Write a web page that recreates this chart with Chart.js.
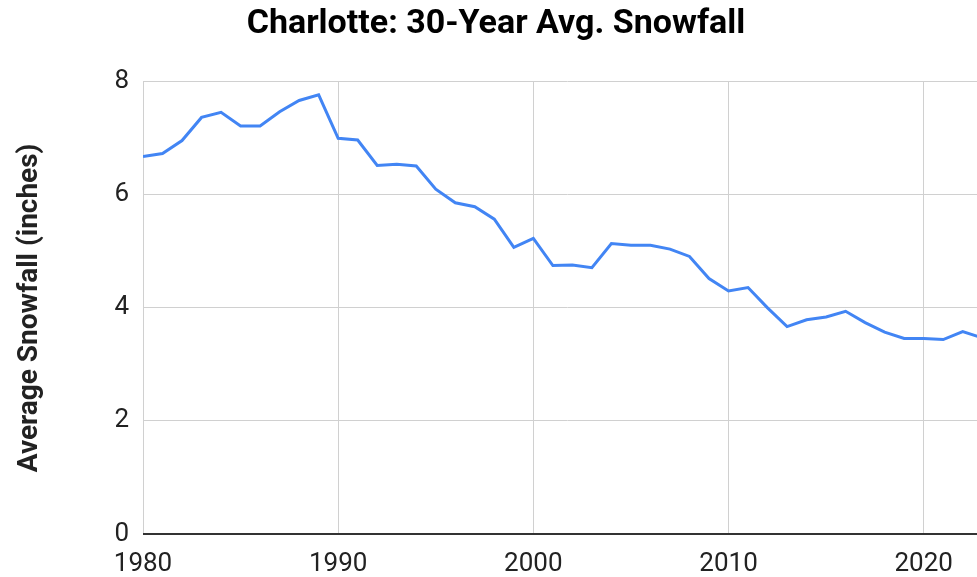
<!DOCTYPE html>
<html lang="en">
<head>
<meta charset="utf-8">
<script src="https://cdn.jsdelivr.net/npm/chart.js"></script>
<style>
    html, body { margin: 0; padding: 0; background: #fff; overflow: hidden; }
    #wrap { width: 992px; height: 577px; }
</style>
</head>
<body>
<div id="wrap">
    <canvas id="myChart" width="992" height="577"></canvas>
</div>
<script>
    // years on the x axis
    let years = [1980, 1981, 1982, 1983, 1984, 1985, 1986, 1987, 1988, 1989,
                 1990, 1991, 1992, 1993, 1994, 1995, 1996, 1997, 1998, 1999,
                 2000, 2001, 2002, 2003, 2004, 2005, 2006, 2007, 2008, 2009,
                 2010, 2011, 2012, 2013, 2014, 2015, 2016, 2017, 2018, 2019,
                 2020, 2021, 2022, 2023];
    // 30-year average snowfall (inches)
    let snowfall = [6.68, 6.73, 6.96, 7.37, 7.46, 7.22, 7.22, 7.47, 7.67, 7.77,
                    7.00, 6.97, 6.52, 6.54, 6.51, 6.10, 5.86, 5.79, 5.57, 5.07,
                    5.23, 4.75, 4.76, 4.71, 5.14, 5.11, 5.11, 5.04, 4.91, 4.52,
                    4.30, 4.36, 4.00, 3.67, 3.79, 3.84, 3.94, 3.74, 3.57, 3.46,
                    3.46, 3.44, 3.58, 3.47];
    let xTicks = [1980, 1990, 2000, 2010, 2020];
    let yTicks = [0, 2, 4, 6, 8];

    let points = years.map(function (y, i) {
        return {x: y, y: snowfall[i]};
    });

    Chart.defaults.font.family = 'Roboto';
    Chart.defaults.color = '#222';

    new Chart(document.getElementById('myChart'), {
        type: 'line',
        data: {
            datasets: [{
                label: 'Average Snowfall',
                data: points,
                borderColor: '#4285f4',
                borderWidth: 3,
                pointRadius: 0,
                tension: 0,
                fill: false
            }]
        },
        options: {
            responsive: false,
            animation: false,
            plugins: {
                legend: {display: false},
                tooltip: {enabled: false},
                title: {
                    display: true,
                    text: 'Charlotte: 30-Year Avg. Snowfall',
                    color: '#000',
                    font: {size: 34, weight: 'bold'},
                    padding: {top: 4, bottom: 37}
                }
            },
            scales: {
                x: {
                    type: 'linear',
                    min: 1980,
                    max: 2023.5,
                    afterBuildTicks: function (scale) {
                        scale.ticks = xTicks.map(function (v) { return {value: v}; });
                    },
                    afterFit: function (scale) {
                        scale.height = 43;
                    },
                    ticks: {
                        font: {size: 26},
                        padding: 15,
                        maxRotation: 0,
                        callback: function (v) { return String(v); }
                    },
                    grid: {color: '#d0d0d0', drawTicks: false},
                    border: {display: false}
                },
                y: {
                    min: 0,
                    max: 8,
                    afterBuildTicks: function (scale) {
                        scale.ticks = yTicks.map(function (v) { return {value: v}; });
                    },
                    afterFit: function (scale) {
                        scale.width = 143;
                    },
                    ticks: {font: {size: 26}, padding: 14},
                    grid: {
                        drawTicks: false,
                        color: function (ctx) {
                            return ctx.tick && ctx.tick.value === 0 ? '#333' : '#d0d0d0';
                        },
                        lineWidth: function (ctx) {
                            return ctx.tick && ctx.tick.value === 0 ? 2 : 1;
                        }
                    },
                    border: {display: false},
                    title: {
                        display: true,
                        text: 'Average Snowfall (inches)',
                        color: '#222',
                        font: {size: 28, weight: 'bold'},
                        padding: {top: 13, bottom: 0}
                    }
                }
            }
        }
    });
</script>
</body>
</html>
